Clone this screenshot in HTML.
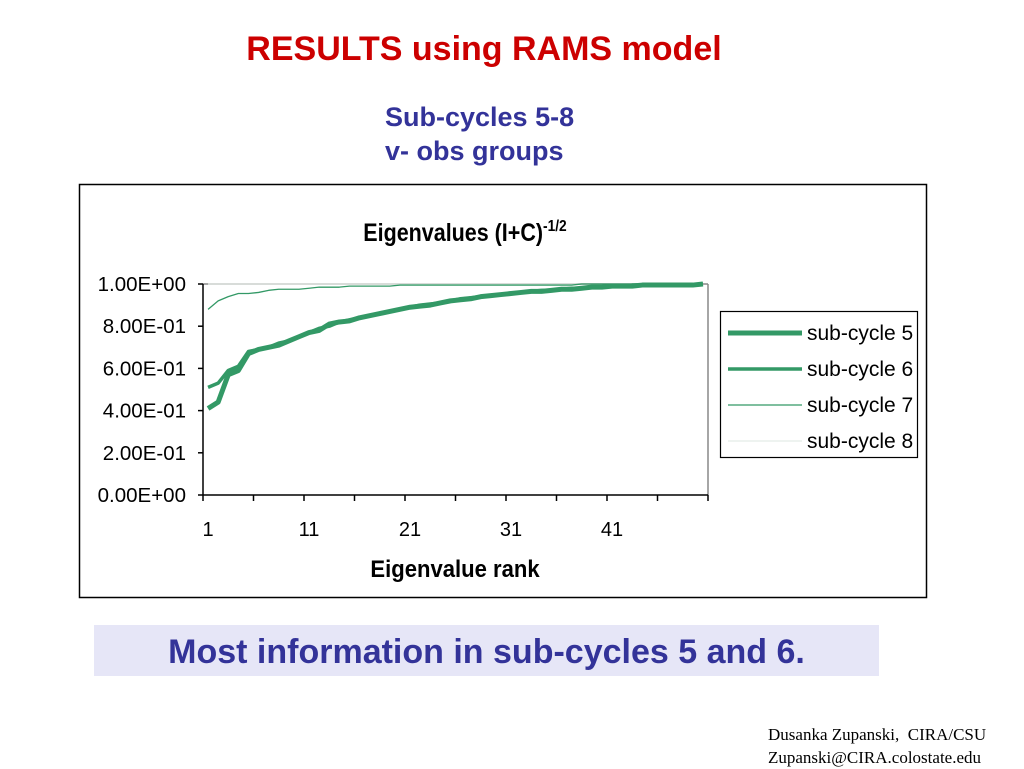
<!DOCTYPE html>
<html><head><meta charset="utf-8"><style>
body{margin:0;width:1024px;height:768px;background:#fff;position:relative;overflow:hidden;font-family:"Liberation Sans",Arial,sans-serif}
.abs{position:absolute}
</style></head><body>
<div class="abs" style="left:0;width:968px;top:30px;text-align:center;color:#cc0000;font-weight:bold;font-size:34px">RESULTS using RAMS model</div>
<div class="abs" style="left:385px;top:100px;color:#333399;font-weight:bold;font-size:27px;line-height:34px">Sub-cycles 5-8<br>v- obs groups</div>
<svg class="abs" style="left:0;top:0" width="1024" height="768" id="chart">
<rect x="79.5" y="184.5" width="847" height="413" fill="#fff" stroke="#000" stroke-width="1.5"/>
<text x="465" y="241" text-anchor="middle" font-weight="bold" font-size="25" transform="translate(465,0) scale(0.86,1) translate(-465,0)">Eigenvalues (I+C)<tspan dy="-10" font-size="16">-1/2</tspan></text>
<text x="455" y="577" text-anchor="middle" font-weight="bold" font-size="24" transform="translate(455,0) scale(0.92,1) translate(-455,0)">Eigenvalue rank</text>
<rect x="720.5" y="311.5" width="197" height="146" fill="#fff" stroke="#000" stroke-width="1.2"/>
<g id="plot"></g>
</svg>
<div class="abs" style="left:94px;top:625px;width:785px;height:51px;background:#e6e6f7;color:#333399;font-weight:bold;font-size:34px;text-align:center;line-height:54px">Most information in sub-cycles 5 and 6.</div>
<div class="abs" style="left:768px;top:723px;font-family:'Liberation Serif',serif;font-size:17px;line-height:23px;color:#000">Dusanka Zupanski,&nbsp; CIRA/CSU<br>Zupanski@CIRA.colostate.edu</div>
<script>
const ranks=Array.from({length:50},(_,i)=>i+1);
const sub5=[0.41,0.44,0.57,0.59,0.67,0.69,0.70,0.71,0.73,0.75,0.77,0.78,0.81,0.82,0.825,0.84,0.85,0.86,0.87,0.88,0.89,0.895,0.90,0.91,0.92,0.925,0.93,0.94,0.945,0.95,0.955,0.96,0.965,0.965,0.97,0.975,0.975,0.98,0.985,0.985,0.99,0.99,0.99,0.995,0.995,0.995,0.995,0.995,0.995,1.0];
const sub6=[0.51,0.53,0.59,0.61,0.68,0.69,0.70,0.72,0.73,0.75,0.77,0.79,0.80,0.82,0.83,0.84,0.85,0.86,0.87,0.88,0.89,0.90,0.905,0.91,0.92,0.93,0.935,0.94,0.945,0.95,0.955,0.96,0.965,0.97,0.97,0.975,0.98,0.98,0.985,0.985,0.99,0.99,0.995,0.995,0.995,0.995,0.995,0.995,0.995,1.0];
const sub7=[0.88,0.92,0.94,0.955,0.955,0.96,0.97,0.975,0.975,0.975,0.98,0.985,0.985,0.985,0.99,0.99,0.99,0.99,0.99,0.995,0.995,0.995,0.995,0.995,0.995,0.995,0.995,0.995,0.995,0.995,0.995,0.995,0.995,0.995,0.995,0.995,0.995,1,1,1,1,1,1,1,1,1,1,1,1,1];
const sub8=Array(50).fill(1.0);
const yTicks=[0,0.2,0.4,0.6,0.8,1.0];
const yTickLabels=["0.00E+00","2.00E-01","4.00E-01","6.00E-01","8.00E-01","1.00E+00"];
const xLabels=[1,11,21,31,41];
const X0=203,X1=708,Y0=495,Y1=284,N=50;
const xs=r=>X0+(r-0.5)*(X1-X0)/N;
const ys=v=>Y0-v*(Y0-Y1);
const NS="http://www.w3.org/2000/svg";
const g=document.getElementById('plot');
function mk(t,a){const e=document.createElementNS(NS,t);for(const k in a)e.setAttribute(k,a[k]);g.appendChild(e);return e;}
let e;
e=mk('line',{x1:X0,y1:Y1,x2:X1,y2:Y1,stroke:'#888','stroke-width':1.5});


e=mk('line',{x1:X1,y1:Y1,x2:X1,y2:Y0,stroke:'#888','stroke-width':1.5});


e=mk('line',{x1:X0,y1:Y1,x2:X0,y2:Y0,stroke:'#000','stroke-width':1.5});


e=mk('line',{x1:X0,y1:Y0,x2:X1,y2:Y0,stroke:'#000','stroke-width':1.5});


yTicks.forEach((v,i)=>{
 e=mk('line',{x1:X0-5,y1:ys(v),x2:X0,y2:ys(v),stroke:'#000','stroke-width':1.5});
 
 
 e=mk('text',{x:186,y:ys(v)+7,'text-anchor':'end','font-size':20.5});
 e.textContent=yTickLabels[i];
 
 
});
for(let k=0;k<=10;k++){
 const x=X0+k*(X1-X0)/10;
 e=mk('line',{x1:x,y1:Y0,x2:x,y2:Y0+6,stroke:'#000','stroke-width':1.5});
 
 
}
xLabels.forEach(r=>{
 e=mk('text',{x:xs(r),y:536,'text-anchor':'middle','font-size':20});
 e.textContent=r;
 
 
});
const series=[[sub8,'#e4ece6',1.2,'sub-cycle 8'],[sub7,'#339966',1.3,'sub-cycle 7'],[sub6,'#339966',3.5,'sub-cycle 6'],[sub5,'#339966',5,'sub-cycle 5']];
series.forEach(([d,c,w,n])=>{
 e=mk('polyline',{points:d.map((v,i)=>xs(ranks[i])+','+ys(v)).join(' '),fill:'none',stroke:c,'stroke-width':w,'stroke-linejoin':'round'});
 
 
});
const legY=[333,369,405,441];
[[3,'sub-cycle 5'],[2,'sub-cycle 6'],[1,'sub-cycle 7'],[0,'sub-cycle 8']].forEach(([si,n],i)=>{
 e=mk('line',{x1:728,y1:legY[i],x2:802,y2:legY[i],stroke:series[si][1],'stroke-width':series[si][2]});
 
 
 e=mk('text',{x:807,y:legY[i]+7,'font-size':21});
 e.textContent=n;
 
 
});
</script>
</body></html>
